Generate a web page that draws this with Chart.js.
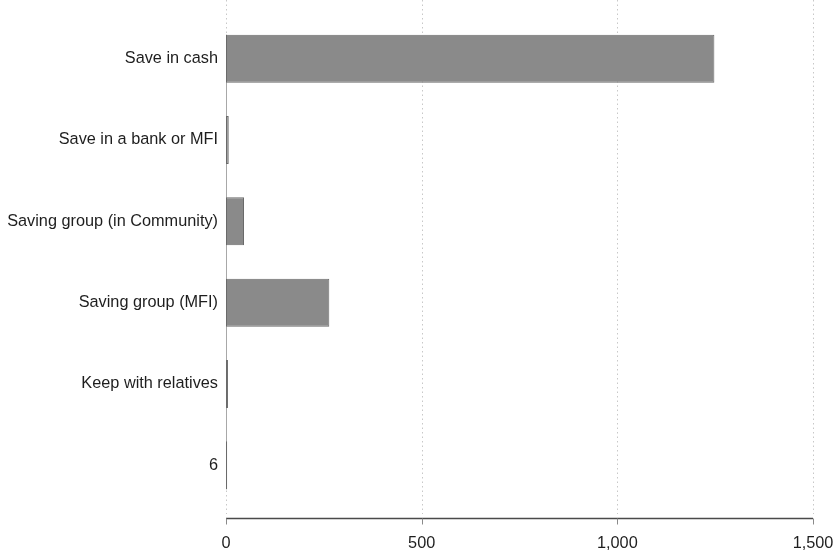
<!DOCTYPE html>
<html>
<head>
<meta charset="utf-8">
<script src="https://cdn.jsdelivr.net/npm/chart.js@4/dist/chart.umd.min.js"></script>
<style>
html,body{margin:0;padding:0;background:#fff;}
#wrap{width:837px;height:554px;position:relative;}
</style>
</head>
<body>
<div id="wrap"><canvas id="c" width="837" height="554"></canvas></div>
<script>
const categories = ["Save in cash", "Save in a bank or MFI", "Saving group (in Community)", "Saving group (MFI)", "Keep with relatives", "6"];
const values = [1248, 7, 46, 264, 5, 3];
const xTicks = [0, 500, 1000, 1500];

const axisPlugin = {
  id: 'stataAxis',
  beforeDatasetsDraw(chart) {
    const ctx = chart.ctx;
    const xs = chart.scales.x;
    ctx.save();
    ctx.strokeStyle = '#c8c8c8';
    ctx.lineWidth = 1;
    ctx.setLineDash([1.5, 3]);
    xTicks.forEach(v => {
      const px = Math.round(xs.getPixelForValue(v)) + 0.5;
      ctx.beginPath();
      ctx.moveTo(px, 0);
      ctx.lineTo(px, 514);
      ctx.stroke();
    });
    ctx.setLineDash([]);
    const meta = chart.getDatasetMeta(0);
    const first = meta.data[0], last = meta.data[meta.data.length - 1];
    const x0 = Math.round(xs.getPixelForValue(0)) + 0.5;
    ctx.strokeStyle = '#a8a8a8';
    ctx.beginPath();
    ctx.moveTo(x0, first.y - first.height / 2);
    ctx.lineTo(x0, last.y + last.height / 2);
    ctx.stroke();
    const ay = 518.5;
    ctx.strokeStyle = '#4a4a4a';
    ctx.lineWidth = 1.6;
    ctx.beginPath();
    ctx.moveTo(xs.getPixelForValue(0), ay);
    ctx.lineTo(xs.getPixelForValue(1500), ay);
    ctx.stroke();
    ctx.strokeStyle = '#8a8a8a';
    ctx.lineWidth = 1;
    xTicks.forEach(v => {
      const px = Math.round(xs.getPixelForValue(v)) + 0.5;
      ctx.beginPath();
      ctx.moveTo(px, ay);
      ctx.lineTo(px, ay + 6);
      ctx.stroke();
    });
    ctx.restore();
  }
};

new Chart(document.getElementById('c'), {
  type: 'bar',
  data: {
    labels: categories,
    datasets: [{
      data: values,
      backgroundColor: '#8a8a8a',
      borderColor: '#6a6a6a',
      borderWidth: 1,
      borderSkipped: false,
      barPercentage: 0.59,
      categoryPercentage: 1.0
    }]
  },
  options: {
    indexAxis: 'y',
    responsive: false,
    animation: false,
    devicePixelRatio: 1,
    layout: { padding: { top: 18, right: 0, left: 0, bottom: 0 } },
    plugins: { legend: { display: false }, tooltip: { enabled: false } },
    scales: {
      x: {
        min: 0, max: 1500,
        afterBuildTicks(scale) { scale.ticks = xTicks.map(v => ({ value: v })); },
        afterFit(scale) { scale.height = 48; scale.paddingRight = 24; },
        grid: { display: false, drawTicks: false },
        border: { display: false },
        ticks: {
          padding: 28,
          color: '#1e1e1e',
          font: { family: 'Liberation Sans, Arial, sans-serif', size: 16.3 },
          callback: v => Number(v).toLocaleString('en-US'),
          maxRotation: 0
        }
      },
      y: {
        afterFit(scale) { scale.width = 226; },
        grid: { display: false, drawTicks: false },
        border: { display: false },
        ticks: {
          padding: 8,
          color: '#1e1e1e',
          font: { family: 'Liberation Sans, Arial, sans-serif', size: 16.3 }
        }
      }
    }
  },
  plugins: [axisPlugin]
});
</script>
</body>
</html>
